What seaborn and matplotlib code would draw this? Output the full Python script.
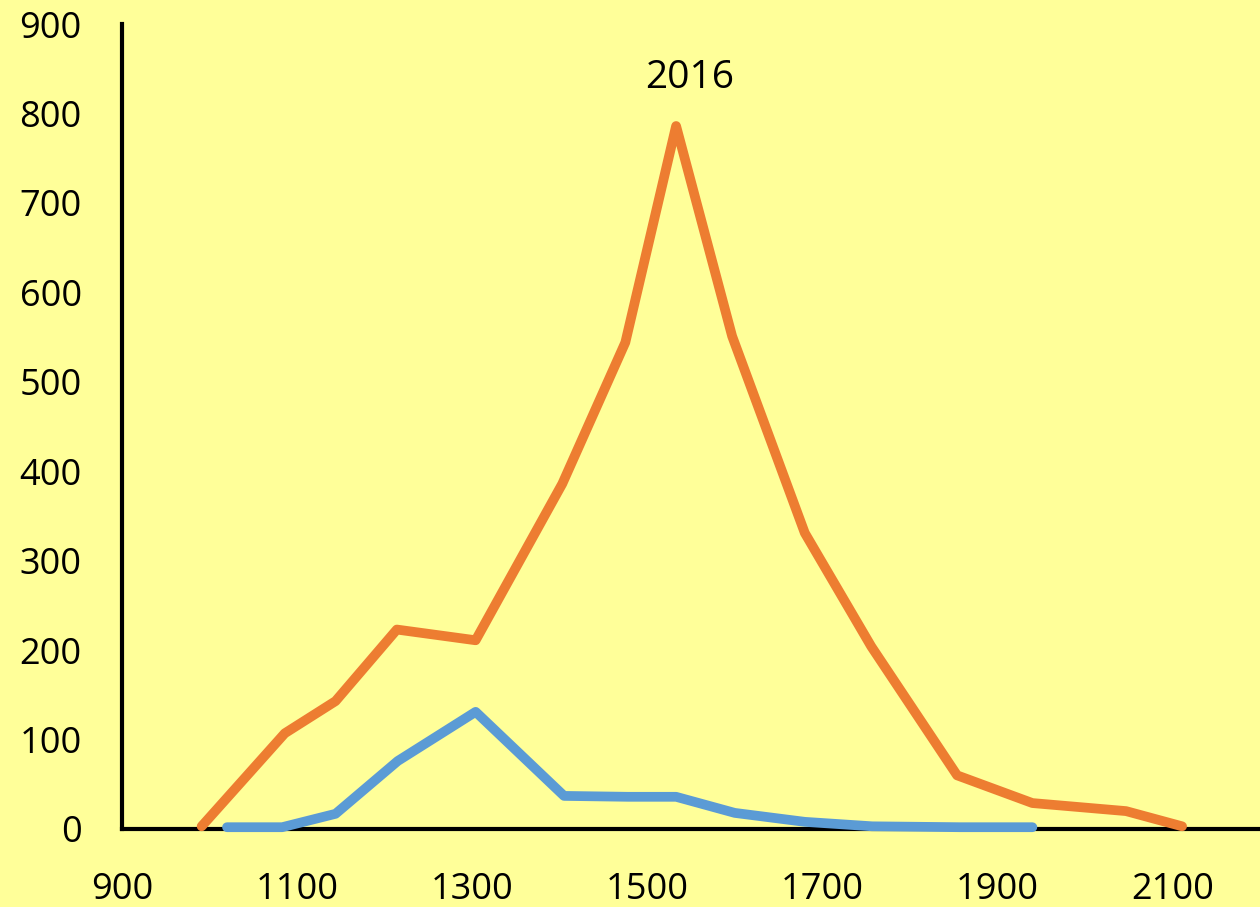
import pandas as pd
import matplotlib.pyplot as plt
import seaborn as sns

# values
orange_x = [991, 1086, 1144, 1214, 1304, 1403, 1475, 1533, 1597, 1680, 1756, 1854, 1940, 2047, 2111]
orange_y = [3, 107, 143, 223, 211, 386, 544, 786, 551, 331, 204, 60, 29, 20, 3]
blue_x = [1020, 1083, 1144, 1215, 1304, 1405, 1478, 1533, 1600, 1680, 1757, 1857, 1940]
blue_y = [2, 2, 17, 76, 131, 37, 36, 36, 18, 8, 3, 2, 2]
x_ticks = [900, 1100, 1300, 1500, 1700, 1900, 2100]
y_ticks = [0, 100, 200, 300, 400, 500, 600, 700, 800, 900]

df = pd.concat([
    pd.DataFrame({'x': orange_x, 'y': orange_y, 'series': '2016'}),
    pd.DataFrame({'x': blue_x, 'y': blue_y, 'series': 'other'}),
])

sns.set_style('white')
plt.rcParams['font.family'] = ['Open Sans', 'DejaVu Sans']
plt.rcParams['text.color'] = 'black'
plt.rcParams['xtick.color'] = 'black'
plt.rcParams['ytick.color'] = 'black'

bg = '#FFFF99'
fig = plt.figure(figsize=(12.6, 9.07), dpi=100, facecolor=bg)
ax = fig.add_axes([0.0968, 0.086, 0.9032, 0.8875], facecolor=bg)

sns.lineplot(data=df, x='x', y='y', hue='series', sort=False, estimator=None,
             palette={'2016': '#ED7D31', 'other': '#5B9BD5'},
             linewidth=7, legend=False, ax=ax, zorder=5)
for line in ax.lines:
    line.set_solid_capstyle('round')
    line.set_solid_joinstyle('round')
    line.set_clip_on(False)

ax.set_xlim(900, 2200)
ax.set_ylim(0, 900)
ax.set_xticks(x_ticks)
ax.set_yticks(y_ticks)
ax.tick_params(axis='both', length=0, labelsize=26, labelcolor='black')
ax.tick_params(axis='x', pad=31)
ax.tick_params(axis='y', pad=29)
ax.set_xlabel('')
ax.set_ylabel('')

for side in ['top', 'right']:
    ax.spines[side].set_visible(False)
for side in ['left', 'bottom']:
    ax.spines[side].set_linewidth(3)
    ax.spines[side].set_color('black')
    ax.spines[side].set_zorder(2)

ax.text(1548, 840, '2016', fontsize=28, ha='center', va='center', color='black')

fig.savefig('out.png', dpi=100, facecolor=bg)
